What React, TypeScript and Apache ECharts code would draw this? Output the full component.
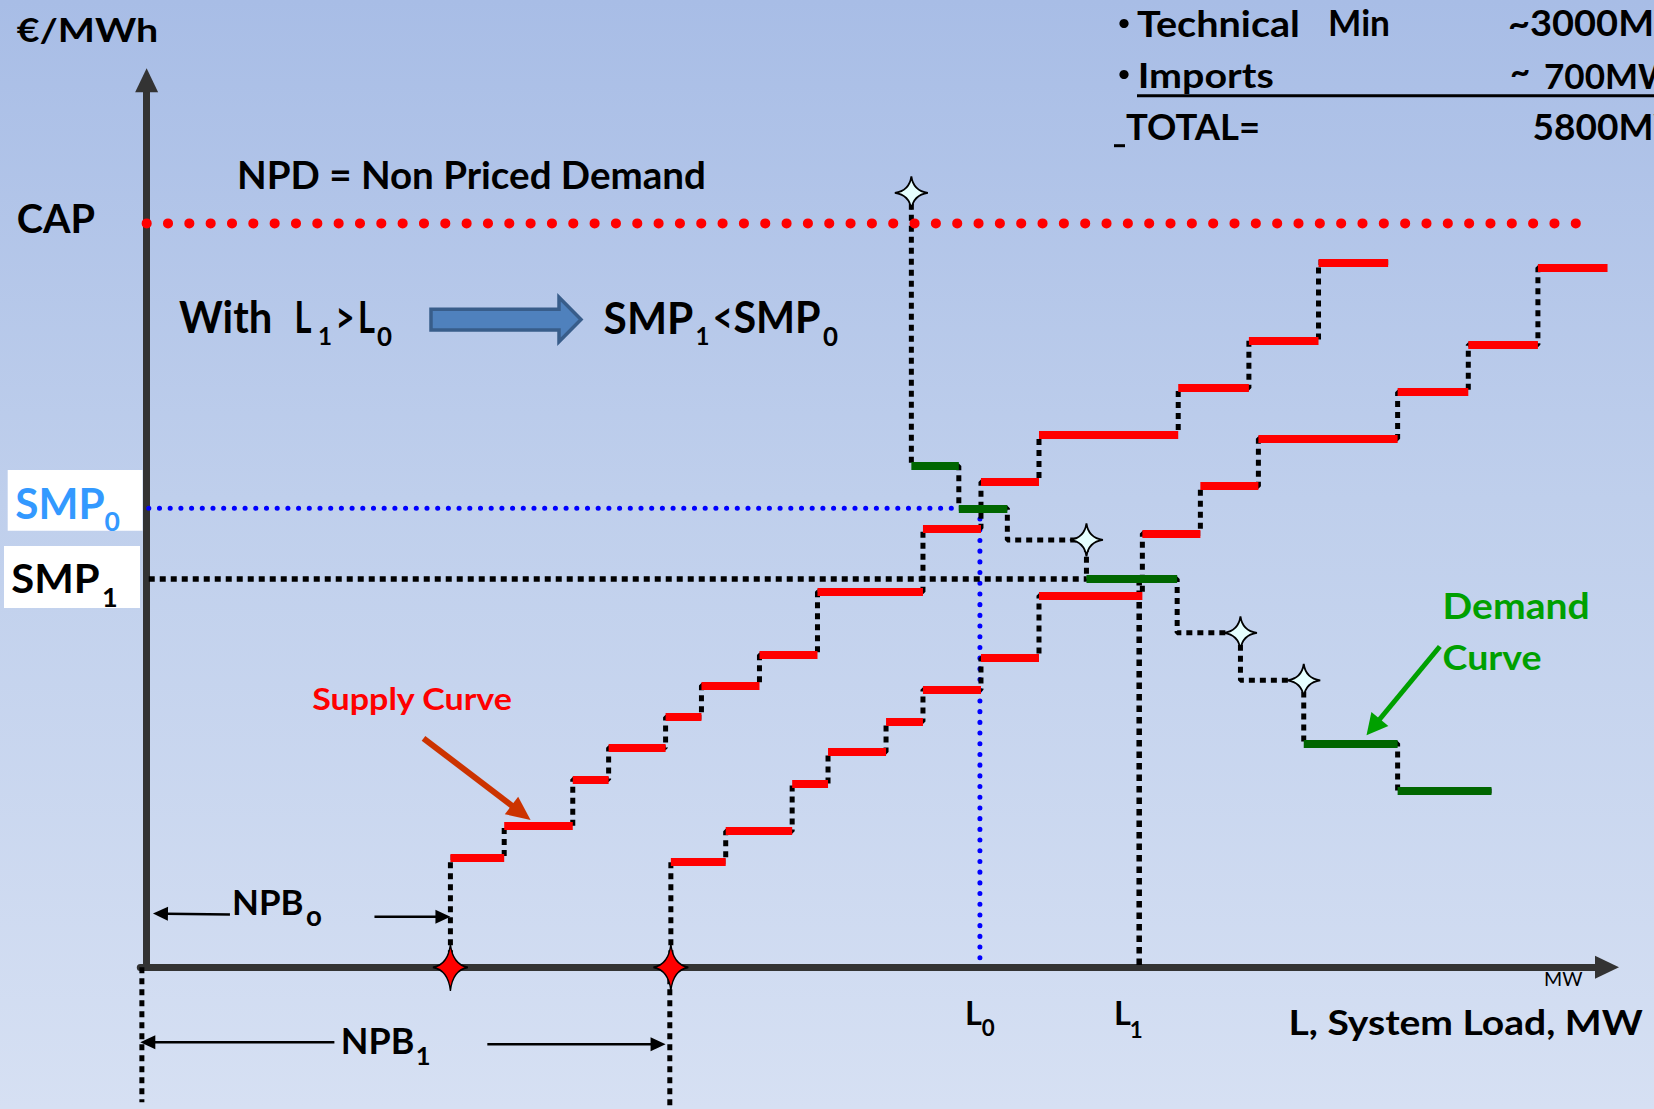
import React, { useEffect, useRef } from 'react';
import * as echarts from 'echarts';

// ---------- data (load units on x, price units on y) ----------
// Supply curve before the shift (NPB0): step break-points and price levels
const supply0X = [288, 339, 404, 438, 492, 526, 581, 636, 736, 791, 846, 978, 1045, 1111, 1177];
const supply0P = [104, 134, 178, 208, 237, 267, 296, 356, 416, 460, 505, 549, 594, 668];
// Supply curve after the shift (NPB1)
const supply1X = [497, 549, 612, 646, 701, 736, 791, 846, 944, 999, 1054, 1186, 1253, 1319, 1385];
const supply1P = [100, 129, 174, 204, 233, 263, 293, 352, 411, 456, 501, 545, 590, 663];
// Demand curve pieces (priced = green bid, otherwise non priced demand step)
const demandX = [725, 770, 816, 891, 977, 1037, 1097, 1186, 1275];
const demandP = [475, 435, 405, 368, 317, 272, 212, 167];
const demandPriced = [true, true, false, true, false, false, true, true];
const demandTop = 734;
const CAP = 705;
const CAP_END = 1356;
const SMP0 = 435;
const SMP1 = 368;
const L0 = 790;
const L1 = 941;
const NPB0 = 288;
const NPB1 = 497;
const X_MIN = -6;
const X_MAX = 1384.5;
const Y_MAX = 840.6;

const FONT = 'Lato';
const K_CAP = 0.7165;
const K_X = 0.5065;
const K_MID = 0.387;
const GREEN_TXT = '#00A000';
const STAR = 'path://M50,0 Q56,44 100,50 Q56,56 50,100 Q44,56 0,50 Q44,44 50,0 Z';

let ctx: CanvasRenderingContext2D | null = null;
function measure(text: string, size: number, weight: string) {
  if (!ctx) ctx = document.createElement('canvas').getContext('2d');
  ctx!.font = `${weight} ${size}px ${FONT}`;
  return ctx!.measureText(text).width;
}

type TextSpec = {
  t: string; x: number; base: number; cap: number; w?: number; fit?: string;
  color?: string; weight?: string; xh?: boolean; center?: boolean;
};

function textEl(s: TextSpec) {
  const weight = s.weight ?? 'bold';
  const fs = s.cap / (s.xh ? K_X : K_CAP);
  let sx = 1;
  if (s.w) sx = s.w / measure(s.fit ?? s.t, fs, weight);
  return {
    type: 'text', x: s.x, y: s.base - K_MID * fs, scaleX: sx, scaleY: 1, z: 20, silent: true,
    style: {
      text: s.t, x: 0, y: 0, fontSize: fs, fontWeight: weight, fontFamily: FONT,
      fill: s.color ?? '#000', align: s.center ? 'center' : 'left', verticalAlign: 'middle',
    },
  };
}

const texts: TextSpec[] = [
  { t: '€/MWh', x: 16.7, base: 42.3, cap: 23, w: 141.6 },
  { t: 'CAP', x: 16.7, base: 233.3, cap: 28.3, w: 78.3 },
  { t: 'NPD = Non Priced Demand', x: 237, base: 189, cap: 26.7, w: 469 },
  { t: 'With', x: 178.9, base: 333.3, cap: 31.7, w: 93.4 },
  { t: 'L', x: 294.5, base: 333.3, cap: 31.7, w: 17 },
  { t: '1', x: 318, base: 345, cap: 18.3, w: 14 },
  { t: '>', x: 345, base: 333.3, cap: 31.7, w: 19, center: true },
  { t: 'L', x: 358, base: 333.3, cap: 31.7, w: 17 },
  { t: '0', x: 377, base: 346.7, cap: 19.5, w: 15 },
  { t: 'SMP', x: 603.6, base: 333.3, cap: 31.7, w: 89.7 },
  { t: '1', x: 695.6, base: 345, cap: 18.3, w: 14 },
  { t: '<', x: 722.7, base: 333.3, cap: 31.7, w: 20, center: true },
  { t: 'SMP', x: 733.4, base: 333.3, cap: 31.7, w: 87.3 },
  { t: '0', x: 823, base: 346.7, cap: 19.5, w: 15 },
  { t: 'SMP', x: 15.3, base: 518.3, cap: 30, w: 89.3, color: '#3399FF' },
  { t: '0', x: 104.6, base: 531.7, cap: 19, color: '#3399FF' },
  { t: 'SMP', x: 11.2, base: 593.3, cap: 29.3, w: 88.3 },
  { t: '1', x: 102, base: 606.7, cap: 19.4 },
  { t: 'Supply Curve', x: 312.2, base: 710, cap: 21.7, w: 200.6, color: '#FF0000' },
  { t: 'Demand', x: 1442.6, base: 619.3, cap: 26, w: 147, color: GREEN_TXT },
  { t: 'Curve', x: 1442.6, base: 670, cap: 25, w: 99, color: GREEN_TXT },
  { t: 'NPB', x: 232.1, base: 915, cap: 25, w: 71.5 },
  { t: 'o', x: 306, base: 925.7, cap: 14, xh: true },
  { t: 'NPB', x: 340.8, base: 1054, cap: 25.7, w: 73.5 },
  { t: '1', x: 415.8, base: 1065, cap: 18.3 },
  { t: 'L', x: 964.9, base: 1025, cap: 23.3 },
  { t: '0', x: 981.7, base: 1036, cap: 16 },
  { t: 'L', x: 1114, base: 1025, cap: 23.3 },
  { t: '1', x: 1129.8, base: 1038.3, cap: 16 },
  { t: 'L, System Load, MW', x: 1288.5, base: 1035, cap: 25, w: 354 },
  { t: 'MW', x: 1544, base: 986, cap: 14, w: 38.5, weight: 'normal' },
  { t: 'Technical', x: 1137, base: 36.7, cap: 25.7, w: 163 },
  { t: 'Min', x: 1328, base: 36.7, cap: 25.7, w: 62 },
  { t: '~3000MW', x: 1508, base: 36.7, cap: 25.7, w: 146, fit: '~3000M' },
  { t: 'Imports', x: 1137.7, base: 88.3, cap: 25, w: 136 },
  { t: '~', x: 1510, base: 84, cap: 25 },
  { t: '700MW', x: 1544, base: 88.3, cap: 25, w: 94, fit: '700M' },
  { t: 'TOTAL=', x: 1126, base: 140, cap: 25.7, w: 134 },
  { t: '5800MW', x: 1532.5, base: 140, cap: 25.7, w: 121, fit: '5800M' },
];

// arrows in data coordinates: [tail, tip]
const npbArrows: number[][][] = [
  [[79, 50], [6, 51]],
  [[216, 48], [NPB0, 48]],
  [[178, -71], [-6, -71]],
  [[323, -73], [NPB1 - 5, -73]],
];
const supplyArrow = [[262.5, 217], [364, 139.6]];
const demandArrow = [[1226, 304], [1156.5, 220]];

function steps(xs: number[], ps: number[], startY: number) {
  const pts: number[][] = [[xs[0], startY]];
  ps.forEach((p, i) => { pts.push([xs[i], p], [xs[i + 1], p]); });
  return pts;
}
function segs(xs: number[], ps: number[], keep?: boolean[]) {
  return ps
    .map((p, i) => ({ coords: [[xs[i], p], [xs[i + 1], p]], k: keep ? keep[i] : true }))
    .filter((d) => d.k)
    .map((d) => ({ coords: d.coords }));
}

function arrow(p0: number[], p1: number[], color: string, lw: number, hl: number, hw: number) {
  const dx = p1[0] - p0[0];
  const dy = p1[1] - p0[1];
  const L = Math.hypot(dx, dy);
  const ux = dx / L;
  const uy = dy / L;
  const bx = p1[0] - ux * hl;
  const by = p1[1] - uy * hl;
  return [
    { type: 'line', z: 15, silent: true, shape: { x1: p0[0], y1: p0[1], x2: bx + ux * 2, y2: by + uy * 2 }, style: { stroke: color, lineWidth: lw } },
    { type: 'polygon', z: 15, silent: true, shape: { points: [[p1[0], p1[1]], [bx - uy * hw / 2, by + ux * hw / 2], [bx + uy * hw / 2, by - ux * hw / 2]] }, style: { fill: color } },
  ];
}

const dotted = (color: string, width: number, dash: number[], cap = 'butt') => ({ color, width, type: dash, cap });

function lineSeries(data: number[][], ls: any, z = 2) {
  return { type: 'line', data, showSymbol: false, symbol: 'none', silent: true, clip: false, z, lineStyle: ls, emphasis: { disabled: true } };
}

export default function App() {
  const ref = useRef<HTMLDivElement>(null);
  useEffect(() => {
    if (!ref.current) return;
    const chart = echarts.init(ref.current, undefined, { renderer: 'svg' });
    const axisCommon = {
      type: 'value',
      axisTick: { show: false },
      axisLabel: { show: false },
      splitLine: { show: false },
    };
    const connector = dotted('#000', 5, [6, 5]);
    const demandStars = [[demandX[0], demandTop]];
    demandPriced.forEach((pr, i) => { if (!pr) demandStars.push([demandX[i + 1], demandP[i]]); });

    chart.setOption({
      animation: false,
      backgroundColor: 'transparent',
      grid: { left: 140.3, top: 80.3, right: 47, bottom: 141.7, containLabel: false, outerBoundsMode: 'none' },
      xAxis: {
        ...axisCommon, min: X_MIN, max: X_MAX,
        axisLine: { show: true, onZero: false, symbol: ['none', 'triangle'], symbolSize: [23, 24], lineStyle: { color: '#333333', width: 7 } },
      },
      yAxis: {
        ...axisCommon, min: 0, max: Y_MAX,
        axisLine: { show: true, onZero: true, symbol: ['none', 'triangle'], symbolSize: [23, 24], lineStyle: { color: '#333333', width: 7 } },
      },
      series: [
        lineSeries([[2, SMP0], [L0, SMP0]], dotted('#0000FF', 5, [0.1, 10.6], 'round')),
        lineSeries([[L0, SMP0], [L0, 0]], dotted('#0000FF', 5, [0.1, 10.6], 'round')),
        lineSeries([[2, SMP1], [demandX[3], SMP1]], dotted('#000', 5.5, [6, 5])),
        lineSeries([[L1, SMP1], [L1, 0]], dotted('#000', 5.5, [6.5, 5])),
        lineSeries(steps(supply0X, supply0P, 0), connector),
        lineSeries(steps(supply1X, supply1P, 0), connector),
        lineSeries(steps(demandX, demandP, demandTop), connector),
        lineSeries([[-4.5, 0], [-4.5, -128]], connector),
        lineSeries([[NPB1 - 1, 0], [NPB1 - 1, -136]], connector),
        lineSeries([[0, CAP], [CAP_END, CAP]], dotted('#FF0000', 10, [0.1, 21.23], 'round'), 4),
        {
          type: 'lines', coordinateSystem: 'cartesian2d', silent: true, clip: false, z: 3,
          data: [...segs(supply0X, supply0P), ...segs(supply1X, supply1P)],
          lineStyle: { color: '#FF0000', width: 8, opacity: 1, cap: 'butt' },
        },
        {
          type: 'lines', coordinateSystem: 'cartesian2d', silent: true, clip: false, z: 3,
          data: segs(demandX, demandP, demandPriced),
          lineStyle: { color: '#006600', width: 8, opacity: 1, cap: 'butt' },
        },
        {
          type: 'scatter', silent: true, clip: false, z: 6, symbol: STAR, symbolSize: [35, 47],
          data: [[NPB0, 0], [NPB1, 0]],
          itemStyle: { color: '#FF0000', borderColor: '#000', borderWidth: 1.5, opacity: 1 },
        },
        {
          type: 'scatter', silent: true, clip: false, z: 6, symbol: STAR, symbolSize: [33, 33],
          data: demandStars,
          itemStyle: { color: '#E6FFFF', borderColor: '#000', borderWidth: 1.8, opacity: 1 },
        },
      ],
    });

    const P = (p: number[]) => chart.convertToPixel({ gridIndex: 0 }, p) as number[];
    const graphic: any[] = [
      { type: 'rect', z: 1, silent: true, shape: { x: 7.7, y: 470, width: 134.8, height: 60.7 }, style: { fill: '#FFFFFF' } },
      { type: 'rect', z: 1, silent: true, shape: { x: 4, y: 546, width: 136, height: 62 }, style: { fill: '#FFFFFF' } },
      {
        type: 'polygon', z: 10, silent: true,
        shape: { points: [[431, 309.3], [559, 309.3], [559, 297.3], [581, 319.5], [559, 341.7], [559, 330], [431, 330]] },
        style: { fill: '#4F81BD', stroke: '#385D8A', lineWidth: 3.5 },
      },
      { type: 'circle', z: 10, silent: true, shape: { cx: 1124, cy: 23.5, r: 4.6 }, style: { fill: '#000' } },
      { type: 'circle', z: 10, silent: true, shape: { cx: 1124, cy: 74.5, r: 4.6 }, style: { fill: '#000' } },
      { type: 'line', z: 10, silent: true, shape: { x1: 1137, y1: 95.7, x2: 1660, y2: 95.7 }, style: { stroke: '#000', lineWidth: 3 } },
      { type: 'line', z: 10, silent: true, shape: { x1: 1114, y1: 145.7, x2: 1125, y2: 145.7 }, style: { stroke: '#000', lineWidth: 3 } },
      ...npbArrows.flatMap((a) => arrow(P(a[0]), P(a[1]), '#000', 2.5, 15, 14)),
      ...arrow(P(supplyArrow[0]), P(supplyArrow[1]), '#CC3300', 6, 24, 22),
      ...arrow(P(demandArrow[0]), P(demandArrow[1]), '#00A000', 5, 21, 22),
      ...texts.map(textEl),
    ];
    chart.setOption({ graphic });
    return () => chart.dispose();
  }, []);
  return (
    <div
      ref={ref}
      style={{
        position: 'fixed', left: 0, top: 0, width: 1654, height: 1109,
        background: 'linear-gradient(180deg, #A8BDE6 0%, #BFCFEC 45%, #D6E0F3 100%)',
      }}
    />
  );
}
